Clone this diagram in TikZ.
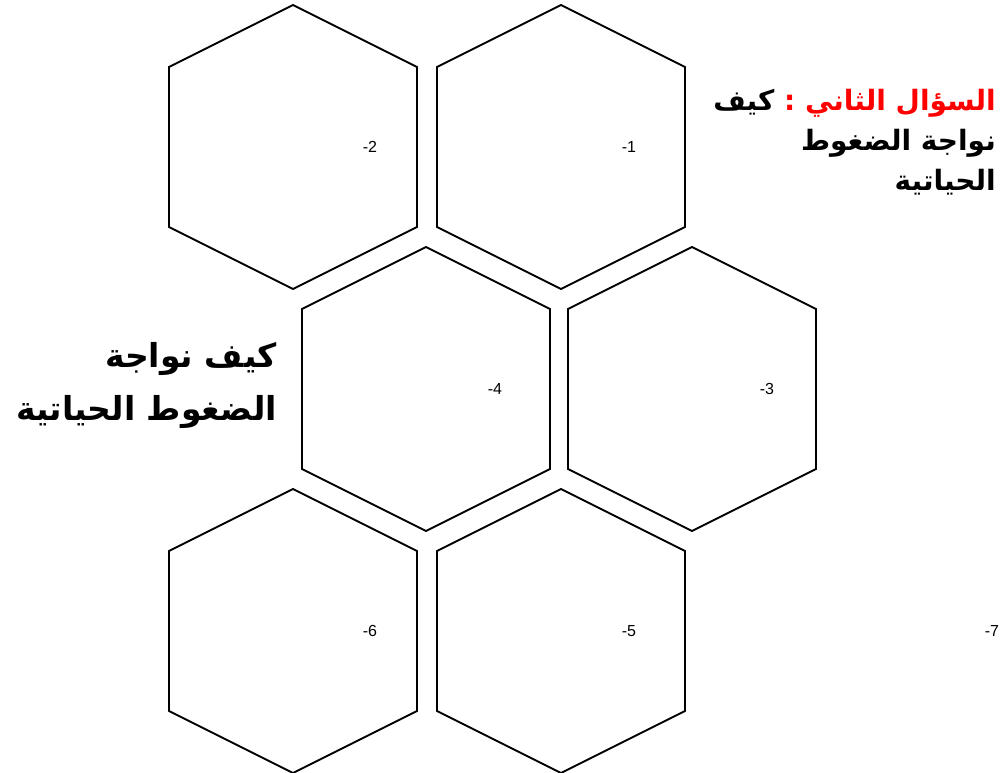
\documentclass[tikz,border=0pt]{standalone}
\usepackage{fontspec}
\setmainfont{Liberation Sans}
\newfontfamily\arabicfont[Script=Arabic]{DejaVu Sans}
\TeXXeTstate=1
\begin{document}
\begin{tikzpicture}[x=1pt,y=-1pt,
  hexa/.style={draw=black,line width=1.9pt,line join=miter},
  num/.style={font=\fontsize{16}{18}\selectfont,inner sep=0pt},
  artitle/.style={align=right,inner sep=0pt,anchor=north east}]
\useasboundingbox (0,0) rectangle (1005,773);
\newcommand{\hexat}[3]{%
  \coordinate (#1) at (#2,#3);
  \draw[hexa] ([shift={(0,-142)}]#1) -- ([shift={(124,-80)}]#1) -- ([shift={(124,80)}]#1) -- ([shift={(0,142)}]#1) -- ([shift={(-124,80)}]#1) -- ([shift={(-124,-80)}]#1) -- cycle;}
\hexat{h1}{561}{147}
\hexat{h2}{293}{147}
\hexat{h3}{692}{389}
\hexat{h4}{426}{389}
\hexat{h5}{561}{631}
\hexat{h6}{293}{631}
\node[num] (n1) at (629,147) {-1};
\node[num] (n2) at (370,147) {-2};
\node[num] (n3) at (767,389) {-3};
\node[num] (n4) at (495,389) {-4};
\node[num] (n5) at (629,631) {-5};
\node[num] (n6) at (370,631) {-6};
\node[num] (n7) at (992,631) {-7};
\node[artitle,font=\arabicfont\bfseries\fontsize{28}{40}\selectfont] (q) at (996,89)
  {{\beginR كيف\endR} \textcolor{red}{\beginR السؤال الثاني :\endR}\\
   \beginR نواجة الضغوط\endR\\
   \beginR الحياتية\endR};
\node[artitle,font=\arabicfont\bfseries\fontsize{33}{53}\selectfont] (t) at (277,342)
  {\beginR كيف نواجة\endR\\
   \beginR الضغوط الحياتية\endR};
\end{tikzpicture}
\end{document}
